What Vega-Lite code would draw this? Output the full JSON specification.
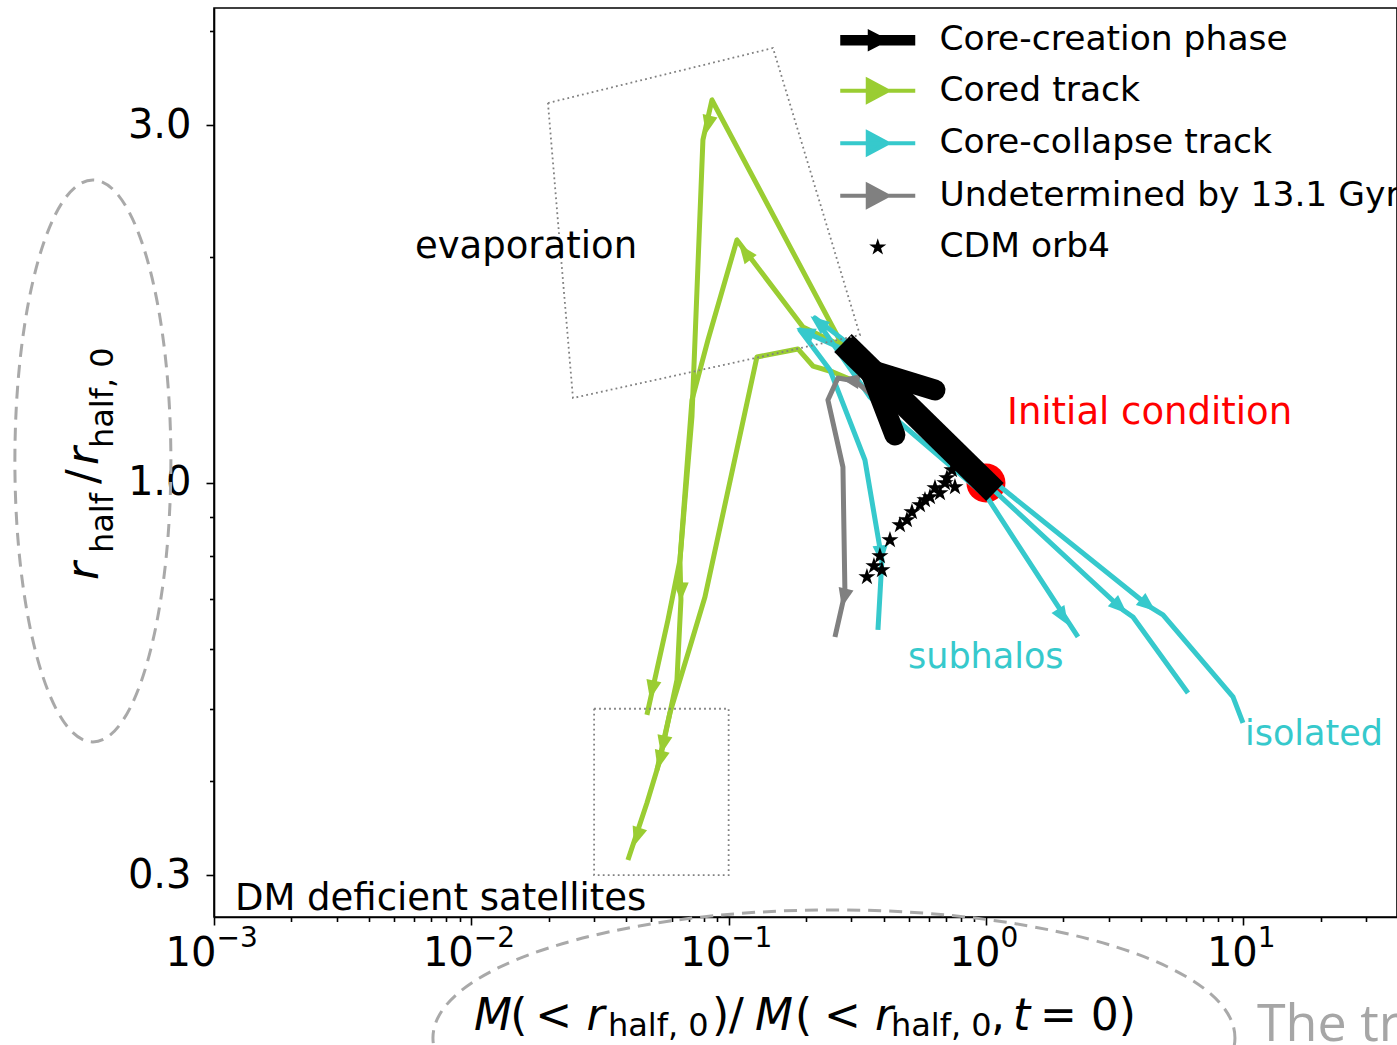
{
  "$schema": "https://vega.github.io/schema/vega-lite/v6.json",
  "width": 1183,
  "height": 909,
  "autosize": {"type": "none"},
  "padding": {"left": 214, "top": 8, "right": 0, "bottom": 128},
  "background": "white",
  "config": {
    "font": "DejaVu Sans",
    "view": {"stroke": "black", "strokeWidth": 1.6},
    "axis": {
      "grid": false,
      "title": null,
      "domainColor": "black",
      "domainWidth": 1.6,
      "tickColor": "black",
      "tickWidth": 1.6,
      "labelFont": "DejaVu Sans",
      "labelFontSize": 40,
      "labelColor": "black",
      "labelOverlap": false,
      "labelFlush": false,
      "labelBound": false
    }
  },
  "datasets": {
    "tracks": [
      {"track": "g1", "series": "Cored track", "seq": 1, "m": 0.2831, "r": 1.504},
      {"track": "g1", "series": "Cored track", "seq": 2, "m": 0.08612, "r": 3.241},
      {"track": "g1", "series": "Cored track", "seq": 3, "m": 0.07945, "r": 2.867},
      {"track": "g1", "series": "Cored track", "seq": 4, "m": 0.07201, "r": 1.225},
      {"track": "g1", "series": "Cored track", "seq": 5, "m": 0.06468, "r": 0.7895},
      {"track": "g1", "series": "Cored track", "seq": 6, "m": 0.06526, "r": 0.6982},
      {"track": "g1", "series": "Cored track", "seq": 7, "m": 0.06297, "r": 0.5461},
      {"track": "g1", "series": "Cored track", "seq": 8, "m": 0.05914, "r": 0.4937},
      {"track": "g1", "series": "Cored track", "seq": 9, "m": 0.05264, "r": 0.4142},
      {"track": "g2", "series": "Cored track", "seq": 1, "m": 0.2707, "r": 1.528},
      {"track": "g2", "series": "Cored track", "seq": 2, "m": 0.1945, "r": 1.614},
      {"track": "g2", "series": "Cored track", "seq": 3, "m": 0.1077, "r": 2.109},
      {"track": "g2", "series": "Cored track", "seq": 4, "m": 0.08309, "r": 1.551},
      {"track": "g2", "series": "Cored track", "seq": 5, "m": 0.07201, "r": 1.29},
      {"track": "g2", "series": "Cored track", "seq": 6, "m": 0.06468, "r": 0.7895},
      {"track": "g2", "series": "Cored track", "seq": 7, "m": 0.05809, "r": 0.6567},
      {"track": "g2", "series": "Cored track", "seq": 8, "m": 0.04813, "r": 0.4906},
      {"track": "g3", "series": "Cored track", "seq": 1, "m": 0.3015, "r": 1.372},
      {"track": "g3", "series": "Cored track", "seq": 2, "m": 0.2543, "r": 1.406},
      {"track": "g3", "series": "Cored track", "seq": 3, "m": 0.2127, "r": 1.432},
      {"track": "g3", "series": "Cored track", "seq": 4, "m": 0.1859, "r": 1.509},
      {"track": "g3", "series": "Cored track", "seq": 5, "m": 0.1288, "r": 1.472},
      {"track": "g3", "series": "Cored track", "seq": 6, "m": 0.08089, "r": 0.7047},
      {"track": "g3", "series": "Cored track", "seq": 7, "m": 0.07073, "r": 0.6044},
      {"track": "g3", "series": "Cored track", "seq": 8, "m": 0.05914, "r": 0.4937},
      {"track": "g3", "series": "Cored track", "seq": 9, "m": 0.05408, "r": 0.4271},
      {"track": "g3", "series": "Cored track", "seq": 10, "m": 0.04813, "r": 0.3744},
      {"track": "g3", "series": "Cored track", "seq": 11, "m": 0.04061, "r": 0.3143},
      {"track": "c1", "series": "Core-collapse track", "seq": 1, "m": 0.2831, "r": 1.504},
      {"track": "c1", "series": "Core-collapse track", "seq": 2, "m": 0.1893, "r": 1.6},
      {"track": "c1", "series": "Core-collapse track", "seq": 3, "m": 0.2475, "r": 1.415},
      {"track": "c1", "series": "Core-collapse track", "seq": 4, "m": 0.3386, "r": 1.073},
      {"track": "c1", "series": "Core-collapse track", "seq": 5, "m": 0.3942, "r": 0.7895},
      {"track": "c1", "series": "Core-collapse track", "seq": 6, "m": 0.3804, "r": 0.6368},
      {"track": "c2", "series": "Core-collapse track", "seq": 1, "m": 0.2961, "r": 1.528},
      {"track": "c2", "series": "Core-collapse track", "seq": 2, "m": 0.2165, "r": 1.66},
      {"track": "c2", "series": "Core-collapse track", "seq": 3, "m": 0.354, "r": 1.302},
      {"track": "c2", "series": "Core-collapse track", "seq": 4, "m": 1.009, "r": 0.9579},
      {"track": "c2", "series": "Core-collapse track", "seq": 5, "m": 1.356, "r": 0.8191},
      {"track": "c2", "series": "Core-collapse track", "seq": 6, "m": 2.278, "r": 0.6233},
      {"track": "c3", "series": "Core-collapse track", "seq": 1, "m": 1.0, "r": 1.0},
      {"track": "c3", "series": "Core-collapse track", "seq": 2, "m": 3.408, "r": 0.6771},
      {"track": "c3", "series": "Core-collapse track", "seq": 3, "m": 3.727, "r": 0.6627},
      {"track": "c3", "series": "Core-collapse track", "seq": 4, "m": 6.097, "r": 0.5248},
      {"track": "c4", "series": "Core-collapse track", "seq": 1, "m": 1.055, "r": 1.009},
      {"track": "c4", "series": "Core-collapse track", "seq": 2, "m": 4.339, "r": 0.6834},
      {"track": "c4", "series": "Core-collapse track", "seq": 3, "m": 4.874, "r": 0.6668},
      {"track": "c4", "series": "Core-collapse track", "seq": 4, "m": 9.12, "r": 0.5184},
      {"track": "c4", "series": "Core-collapse track", "seq": 5, "m": 9.973, "r": 0.4786},
      {"track": "u1", "series": "Undetermined by 13.1 Gyr", "seq": 1, "m": 0.3605, "r": 1.31},
      {"track": "u1", "series": "Undetermined by 13.1 Gyr", "seq": 2, "m": 0.3097, "r": 1.368},
      {"track": "u1", "series": "Undetermined by 13.1 Gyr", "seq": 3, "m": 0.2659, "r": 1.38},
      {"track": "u1", "series": "Undetermined by 13.1 Gyr", "seq": 4, "m": 0.2431, "r": 1.29},
      {"track": "u1", "series": "Undetermined by 13.1 Gyr", "seq": 5, "m": 0.2781, "r": 1.05},
      {"track": "u1", "series": "Undetermined by 13.1 Gyr", "seq": 6, "m": 0.2831, "r": 0.7134},
      {"track": "u1", "series": "Undetermined by 13.1 Gyr", "seq": 7, "m": 0.2589, "r": 0.6233}
    ],
    "arrows": [
      {"series": "Cored track", "m": 0.08309, "r": 3.002, "heading": 103},
      {"series": "Cored track", "m": 0.1157, "r": 2.032, "heading": 233},
      {"series": "Cored track", "m": 0.06526, "r": 0.7156, "heading": 91},
      {"series": "Cored track", "m": 0.05034, "r": 0.5297, "heading": 102},
      {"series": "Cored track", "m": 0.05555, "r": 0.4473, "heading": 102},
      {"series": "Cored track", "m": 0.05408, "r": 0.4271, "heading": 104},
      {"series": "Cored track", "m": 0.04401, "r": 0.3373, "heading": 108},
      {"series": "Core-collapse track", "m": 0.198, "r": 1.59, "heading": 204},
      {"series": "Core-collapse track", "m": 0.2224, "r": 1.639, "heading": 218},
      {"series": "Core-collapse track", "m": 0.3907, "r": 0.8017, "heading": 85},
      {"series": "Core-collapse track", "m": 1.992, "r": 0.6627, "heading": 58},
      {"series": "Core-collapse track", "m": 3.317, "r": 0.6834, "heading": 42.5},
      {"series": "Core-collapse track", "m": 4.262, "r": 0.6876, "heading": 39},
      {"series": "Undetermined by 13.1 Gyr", "m": 0.2961, "r": 1.372, "heading": 190},
      {"series": "Undetermined by 13.1 Gyr", "m": 0.2806, "r": 0.7025, "heading": 103}
    ],
    "stars": [
      {"m": 0.3447, "r": 0.7494}, {"m": 0.367, "r": 0.7751}, {"m": 0.3942, "r": 0.7656},
      {"m": 0.3872, "r": 0.7992}, {"m": 0.4236, "r": 0.8395}, {"m": 0.4632, "r": 0.879},
      {"m": 0.4931, "r": 0.8926}, {"m": 0.5157, "r": 0.9147}, {"m": 0.554, "r": 0.9347},
      {"m": 0.5794, "r": 0.9492}, {"m": 0.6059, "r": 0.9579}, {"m": 0.6337, "r": 0.9848},
      {"m": 0.6626, "r": 0.9698}, {"m": 0.7054, "r": 1.0155}, {"m": 0.7377, "r": 1.0407},
      {"m": 0.6929, "r": 1.0}, {"m": 0.7577, "r": 0.9878}
    ],
    "boxes": [
      {"box": "evaporation", "seq": 1, "m": 0.01985, "r": 3.211},
      {"box": "evaporation", "seq": 2, "m": 0.1487, "r": 3.802},
      {"box": "evaporation", "seq": 3, "m": 0.3238, "r": 1.575},
      {"box": "evaporation", "seq": 4, "m": 0.02483, "r": 1.298},
      {"box": "evaporation", "seq": 5, "m": 0.01985, "r": 3.211},
      {"box": "deficient", "seq": 1, "m": 0.03, "r": 0.5},
      {"box": "deficient", "seq": 2, "m": 0.1, "r": 0.5},
      {"box": "deficient", "seq": 3, "m": 0.1, "r": 0.3},
      {"box": "deficient", "seq": 4, "m": 0.03, "r": 0.3},
      {"box": "deficient", "seq": 5, "m": 0.03, "r": 0.5}
    ],
    "band": [
      {"seq": 1, "m": 1.084, "r": 0.9728},
      {"seq": 2, "m": 0.2781, "r": 1.537}
    ],
    "barbs": [
      {"seq": 1, "m": 0.6337, "r": 1.3305},
      {"seq": 2, "m": 0.354, "r": 1.4148},
      {"seq": 3, "m": 0.4428, "r": 1.1588}
    ],
    "start": [{"m": 1.0, "r": 1.0}],
    "ovals": [
      {"oval": "left", "m": 0.0003383, "r": 1.0699},
      {"oval": "bottom", "m": 0.2566, "r": 0.182}
    ],
    "notes": [
      {"kind": "black", "m": 0.006036, "r": 1.995, "label": "evaporation"},
      {"kind": "black", "m": 0.001206, "r": 0.2696, "label": "DM deficient satellites"},
      {"kind": "red", "m": 1.2068, "r": 1.1987, "label": "Initial condition"},
      {"kind": "cyan", "m": 0.4976, "r": 0.5666, "label": "subhalos"},
      {"kind": "cyan", "m": 10.153, "r": 0.4473, "label": "isolated"},
      {"kind": "overlay", "m": 11.3, "r": 0.1803, "label": "The tr"}
    ],
    "titles": [
      {"part": "xital", "m": 0.010236, "r": 0.18648, "label": "M"},
      {"part": "xup", "m": 0.014165, "r": 0.18648, "label": "("},
      {"part": "xup", "m": 0.017722, "r": 0.18648, "label": "<"},
      {"part": "xital", "m": 0.02805, "r": 0.18648, "label": "r"},
      {"part": "xsub", "m": 0.033963, "r": 0.18309, "label": "half, 0"},
      {"part": "xup", "m": 0.086117, "r": 0.18648, "label": ")/"},
      {"part": "xital", "m": 0.12654, "r": 0.18648, "label": "M"},
      {"part": "xup", "m": 0.18101, "r": 0.18648, "label": "("},
      {"part": "xup", "m": 0.23462, "r": 0.18648, "label": "<"},
      {"part": "xital", "m": 0.37045, "r": 0.18648, "label": "r"},
      {"part": "xsub", "m": 0.42734, "r": 0.18309, "label": "half, 0"},
      {"part": "xup", "m": 1.0455, "r": 0.18648, "label": ","},
      {"part": "xital", "m": 1.2734, "r": 0.18648, "label": "t"},
      {"part": "xup", "m": 1.621, "r": 0.18648, "label": "= 0)"},
      {"part": "yital", "m": 0.00035378, "r": 0.74254, "label": "r"},
      {"part": "ysub", "m": 0.00040464, "r": 0.80635, "label": "half"},
      {"part": "yup", "m": 0.00035378, "r": 0.99696, "label": "/"},
      {"part": "yital", "m": 0.00035378, "r": 1.05677, "label": "r"},
      {"part": "ysub", "m": 0.00040464, "r": 1.11325, "label": "half, 0"}
    ]
  },
  "resolve": {"axis": {"x": "independent"}},
  "layer": [
    {
      "encoding": {
        "x": {
          "field": "m",
          "type": "quantitative",
          "scale": {"type": "log", "domain": [0.001, 39.57], "nice": false},
          "axis": {
            "orient": "bottom",
            "values": [0.001, 0.002, 0.003, 0.004, 0.005, 0.006, 0.007, 0.008, 0.009, 0.01, 0.02, 0.03, 0.04, 0.05, 0.06, 0.07, 0.08, 0.09, 0.1, 0.2, 0.3, 0.4, 0.5, 0.6, 0.7, 0.8, 0.9, 1, 2, 3, 4, 5, 6, 7, 8, 9, 10, 20, 30],
            "labelExpr": "indexof([0.001, 0.01, 0.1, 1, 10], datum.value) >= 0 ? '10' : ''",
            "labelAlign": "right",
            "labelOffset": {"condition": {"test": "datum.value >= 1", "value": 14}, "value": 2},
            "labelPadding": 8,
            "tickSize": {"condition": {"test": "indexof([0.001, 0.01, 0.1, 1, 10], datum.value) >= 0", "value": 8}, "value": 4.5}
          }
        },
        "y": {
          "field": "r",
          "type": "quantitative",
          "scale": {"type": "log", "domain": [0.26379, 4.2987], "nice": false},
          "axis": {
            "values": [0.3, 0.4, 0.5, 0.6, 0.7, 0.8, 0.9, 1, 2, 3, 4],
            "labelExpr": "datum.value == 0.3 ? '0.3' : datum.value == 1 ? '1.0' : datum.value == 3 ? '3.0' : ''",
            "labelPadding": 15,
            "tickSize": {"condition": {"test": "indexof([0.3, 1, 3], datum.value) >= 0", "value": 8}, "value": 4.5}
          }
        }
      },
      "layer": [
        {
          "data": {"name": "start"},
          "mark": {"type": "point", "shape": "circle", "filled": true, "color": "#ff0000", "size": 1521, "opacity": 1}
        },
        {
          "data": {"name": "tracks"},
          "mark": {"type": "line", "strokeWidth": 5, "strokeJoin": "round", "strokeCap": "butt"},
          "encoding": {
            "color": {
              "field": "series",
              "type": "nominal",
              "scale": {
                "domain": ["Core-creation phase", "Cored track", "Core-collapse track", "Undetermined by 13.1 Gyr", "CDM orb4"],
                "range": ["#000000", "#9acd32", "#36c9cc", "#808080", "#000000"]
              },
              "legend": {
                "title": null,
                "orient": "none",
                "legendX": 646.5,
                "legendY": 15,
                "padding": 0,
                "symbolSize": 625,
                "labelFont": "DejaVu Sans",
                "labelFontSize": 34.5,
                "labelColor": "black",
                "labelOffset": 44.5,
                "labelLimit": 2000,
                "rowPadding": 14.5,
                "encode": {
                  "symbols": {
                    "update": {
                      "shape": {"signal": "datum.value === 'CDM orb4' ? 'M0 -0.72 L0.162 -0.222 L0.685 -0.222 L0.262 0.085 L0.423 0.582 L0 0.275 L-0.423 0.582 L-0.262 0.085 L-0.685 -0.222 L-0.162 -0.222 Z' : datum.value === 'Core-creation phase' ? 'M -3 -0.42 L 3 -0.42 L 3 0.42 L -3 0.42 Z M -0.8 -0.9 L 0.95 0 L -0.8 0.9 Z' : 'M -3 0 L 3 0 M -0.8 -0.85 L 0.8 0 L -0.8 0.85 Z'"},
                      "strokeWidth": {"signal": "datum.value === 'Core-creation phase' || datum.value === 'CDM orb4' ? 0 : 4"},
                      "fill": {"scale": "color", "field": "value"},
                      "stroke": {"scale": "color", "field": "value"},
                      "opacity": {"value": 1}
                    }
                  }
                }
              }
            },
            "detail": {"field": "track"},
            "order": {"field": "seq", "type": "quantitative"}
          }
        },
        {
          "data": {"name": "arrows"},
          "mark": {"type": "point", "shape": "M 1 0 L -1 -0.8 L -1 0.8 Z", "filled": true, "size": 361, "opacity": 1},
          "encoding": {
            "color": {"field": "series", "type": "nominal", "legend": null},
            "angle": {"field": "heading", "type": "quantitative", "scale": null}
          }
        },
        {
          "data": {"name": "band"},
          "mark": {"type": "line", "color": "black", "strokeWidth": 25, "strokeCap": "butt"},
          "encoding": {"order": {"field": "seq", "type": "quantitative"}}
        },
        {
          "data": {"name": "barbs"},
          "mark": {"type": "line", "color": "black", "strokeWidth": 21, "strokeCap": "round", "strokeJoin": "round"},
          "encoding": {"order": {"field": "seq", "type": "quantitative"}}
        },
        {
          "data": {"name": "stars"},
          "mark": {"type": "point", "shape": "M0 -1 L0.225 -0.309 L0.951 -0.309 L0.363 0.118 L0.588 0.809 L0 0.382 L-0.588 0.809 L-0.363 0.118 L-0.951 -0.309 L-0.225 -0.309 Z", "filled": true, "color": "black", "size": 324, "opacity": 1}
        },
        {
          "data": {"name": "boxes"},
          "mark": {"type": "line", "color": "#808080", "strokeWidth": 1.8, "strokeDash": [1.8, 3.2]},
          "encoding": {
            "detail": {"field": "box"},
            "order": {"field": "seq", "type": "quantitative"}
          }
        },
        {
          "data": {"name": "notes"},
          "transform": [{"filter": "datum.kind == 'black'"}],
          "mark": {"type": "text", "align": "left", "baseline": "alphabetic", "fontSize": 37, "color": "black"},
          "encoding": {"text": {"field": "label", "type": "nominal"}}
        },
        {
          "data": {"name": "notes"},
          "transform": [{"filter": "datum.kind == 'red'"}],
          "mark": {"type": "text", "align": "left", "baseline": "alphabetic", "fontSize": 37, "color": "#ff0000"},
          "encoding": {"text": {"field": "label", "type": "nominal"}}
        },
        {
          "data": {"name": "notes"},
          "transform": [{"filter": "datum.kind == 'cyan'"}],
          "mark": {"type": "text", "align": "left", "baseline": "alphabetic", "fontSize": 35, "color": "#36c9cc"},
          "encoding": {"text": {"field": "label", "type": "nominal"}}
        },
        {
          "data": {"name": "titles"},
          "transform": [{"filter": "datum.part == 'xital'"}],
          "mark": {"type": "text", "align": "left", "baseline": "alphabetic", "fontSize": 44, "fontStyle": "italic", "color": "black"},
          "encoding": {"text": {"field": "label", "type": "nominal"}}
        },
        {
          "data": {"name": "titles"},
          "transform": [{"filter": "datum.part == 'xup'"}],
          "mark": {"type": "text", "align": "left", "baseline": "alphabetic", "fontSize": 44, "color": "black"},
          "encoding": {"text": {"field": "label", "type": "nominal"}}
        },
        {
          "data": {"name": "titles"},
          "transform": [{"filter": "datum.part == 'xsub'"}],
          "mark": {"type": "text", "align": "left", "baseline": "alphabetic", "fontSize": 32, "color": "black"},
          "encoding": {"text": {"field": "label", "type": "nominal"}}
        },
        {
          "data": {"name": "titles"},
          "transform": [{"filter": "datum.part == 'yital'"}],
          "mark": {"type": "text", "align": "left", "baseline": "alphabetic", "angle": 270, "fontSize": 44, "fontStyle": "italic", "color": "black"},
          "encoding": {"text": {"field": "label", "type": "nominal"}}
        },
        {
          "data": {"name": "titles"},
          "transform": [{"filter": "datum.part == 'yup'"}],
          "mark": {"type": "text", "align": "left", "baseline": "alphabetic", "angle": 270, "fontSize": 44, "color": "black"},
          "encoding": {"text": {"field": "label", "type": "nominal"}}
        },
        {
          "data": {"name": "titles"},
          "transform": [{"filter": "datum.part == 'ysub'"}],
          "mark": {"type": "text", "align": "left", "baseline": "alphabetic", "angle": 270, "fontSize": 32, "color": "black"},
          "encoding": {"text": {"field": "label", "type": "nominal"}}
        },
        {
          "data": {"name": "notes"},
          "transform": [{"filter": "datum.kind == 'overlay'"}],
          "mark": {"type": "text", "align": "left", "baseline": "alphabetic", "font": "Open Sans", "fontSize": 52, "color": "#a6a6a6"},
          "encoding": {"text": {"field": "label", "type": "nominal"}}
        },
        {
          "data": {"name": "ovals"},
          "transform": [{"filter": "datum.oval == 'left'"}],
          "mark": {"type": "point", "shape": "M 0.2776 0 C 0.2776 0.5523 0.1533 1 0 1 C -0.1533 1 -0.2776 0.5523 -0.2776 0 C -0.2776 -0.5523 -0.1533 -1 0 -1 C 0.1533 -1 0.2776 -0.5523 0.2776 0 Z", "size": 315844, "filled": false, "stroke": "#a9a9a9", "strokeWidth": 3, "strokeDash": [13, 8], "opacity": 1}
        },
        {
          "data": {"name": "ovals"},
          "transform": [{"filter": "datum.oval == 'bottom'"}],
          "mark": {"type": "point", "shape": "M 1 0 C 1 0.1763 0.5523 0.3192 0 0.3192 C -0.5523 0.3192 -1 0.1763 -1 0 C -1 -0.1763 -0.5523 -0.3192 0 -0.3192 C 0.5523 -0.3192 1 -0.1763 1 0 Z", "size": 643204, "filled": false, "stroke": "#a9a9a9", "strokeWidth": 3, "strokeDash": [13, 8], "opacity": 1}
        }
      ]
    },
    {
      "data": {"name": "start"},
      "mark": {"type": "point", "opacity": 0},
      "encoding": {
        "x": {
          "field": "m",
          "type": "quantitative",
          "scale": {"type": "log", "domain": [0.001, 39.57], "nice": false},
          "axis": {
            "orient": "bottom",
            "values": [0.001, 0.01, 0.1, 1, 10],
            "labelExpr": "datum.value == 0.001 ? '−3' : datum.value == 0.01 ? '−2' : datum.value == 0.1 ? '−1' : datum.value == 1 ? '0' : '1'",
            "labelAlign": "left",
            "labelBaseline": "top",
            "labelFontSize": 28,
            "labelOffset": {"condition": {"test": "datum.value >= 1", "value": 14}, "value": 2},
            "labelPadding": 7,
            "ticks": false,
            "tickSize": 0,
            "domain": false
          }
        }
      }
    }
  ]
}
